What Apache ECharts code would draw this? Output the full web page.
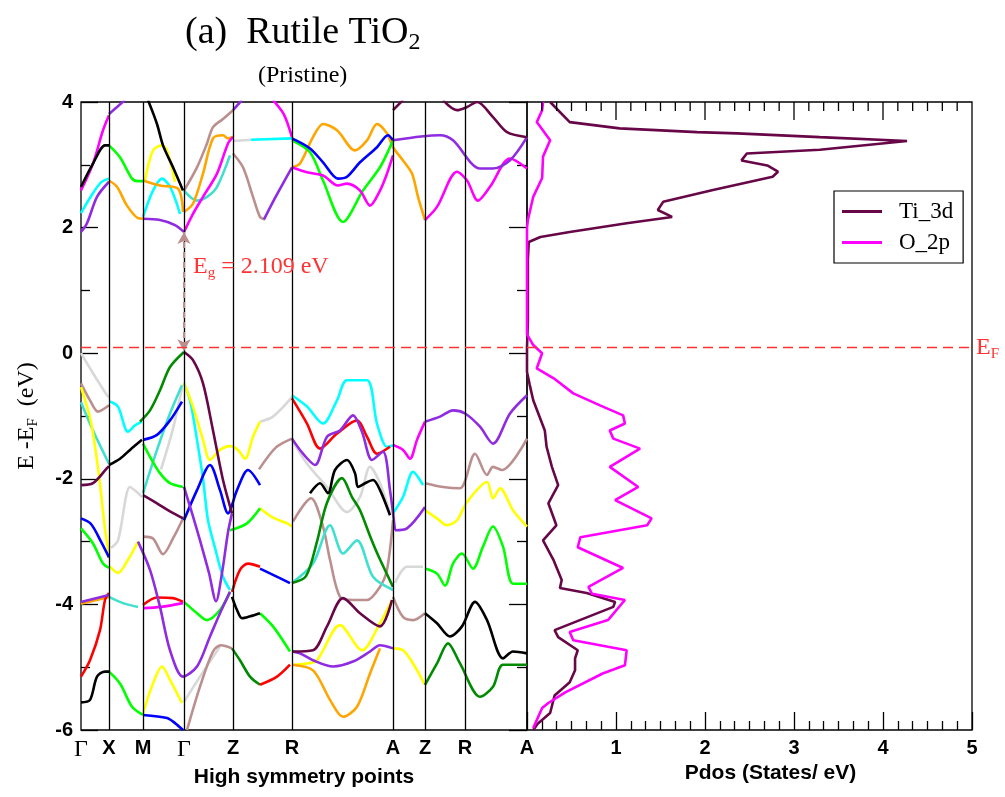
<!DOCTYPE html>
<html>
<head>
<meta charset="utf-8">
<script src="https://cdn.jsdelivr.net/npm/echarts@6.0.0/dist/echarts.min.js"></script>
<style>
html, body { margin: 0; padding: 0; background: #fff; }
#chart { width: 1005px; height: 797px; }
</style>
</head>
<body>
<div id="chart"></div>
<script>
// k-path (arbitrary units) and the high symmetry labels
const kTicks = [0, 28, 62, 103, 152, 211, 312, 344, 384, 446];
const kNames = ['Γ', 'X', 'M', 'Γ', 'Z', 'R', 'A', 'Z', 'R', 'A'];
const fermiLevel = 0.09;
const gapEnds = [[103, 1.93], [103, 0.03]];
const gapText = 'E{s|g} = 2.109 eV';

// bands, one array per plot colour, each made of [k, E] segments
const bandPurple = [
  [[0, 1.93], [6, 2.07], [16, 2.49], [28, 2.73]],
  [[62, 2.14], [79, 2.12], [94, 2.04], [103, 1.93]],
  [[28, 3.81], [44, 4.03]],
  [[152, 3.87], [161, 4.03]],
  [[183, 2.13], [195, 2.5], [211, 2.96]],
  [[312, 3.39], [340, 3.45], [359, 3.47], [372, 3.39], [399, 2.94], [412, 2.94], [429, 3.07], [446, 3.44]],
  [[211, -1.36], [222, -1.6], [234, -1.78], [246, -1.33], [259, -1.23], [272, -0.99], [281, -1.25], [291, -1.7], [302, -1.57], [309, -2.18], [314, -2.82]],
  [[314, -2.82], [326, -2.79], [344, -2.45]],
  [[344, -1.09], [359, -1.01], [372, -0.91], [384, -0.96], [399, -1.17], [412, -1.44], [429, -0.96], [446, -0.67]],
  [[103, -2.13], [112, -2.6], [119, -2.98], [128, -3.5], [135, -3.95], [141, -3.5], [147, -2.85], [151, -2.55]],
  [[57, -3.0], [69, -3.45], [79, -4.04], [89, -4.73], [102, -5.15], [116, -4.99], [129, -4.51], [139, -4.14], [149, -3.8]],
  [[0, -3.96], [28, -3.85]],
  [[211, -4.75], [219, -4.78], [232, -4.89], [252, -4.99], [272, -4.91], [289, -4.75], [299, -4.65], [312, -4.7]]
];
const bandMagenta = [
  [[0, 2.59], [12, 3.02], [22, 3.55], [28, 3.79]],
  [[103, 1.93], [112, 2.22], [122, 2.49], [136, 2.86], [147, 3.34], [152, 3.44]],
  [[192, 4.03], [203, 3.8], [211, 3.44]],
  [[211, 2.96], [226, 2.88], [242, 2.83], [257, 2.67], [266, 2.7], [279, 2.59], [289, 2.35], [299, 2.59], [306, 2.86], [312, 3.15]],
  [[344, 2.12], [356, 2.33], [376, 2.89], [386, 2.75], [397, 2.43], [409, 2.65], [429, 3.1], [446, 2.94]],
  [[312, -1.46], [322, -1.54], [329, -1.68], [336, -1.38], [344, -1.09]],
  [[62, -4.06], [80, -4.04], [102, -3.98]]
];
const bandCyan = [
  [[0, 2.23], [10, 2.5], [20, 2.72], [28, 2.78]],
  [[62, 2.17], [72, 2.59], [81, 2.78], [89, 2.65], [99, 2.22]],
  [[170, 3.4], [211, 3.42]],
  [[29, -0.77], [37, -0.85], [47, -1.25], [54, -1.15], [61, -1.09]],
  [[103, -0.48], [109, -0.75], [116, -1.38], [122, -2.0], [127, -2.66], [134, -3.1], [142, -3.56], [149, -3.77]],
  [[211, -0.67], [226, -0.85], [242, -1.12], [256, -0.75], [266, -0.43], [286, -0.43], [296, -1.12], [306, -1.49], [312, -1.47]],
  [[312, -2.55], [322, -2.29], [332, -1.89], [342, -2.1]]
];
const bandTurquoise = [
  [[103, 2.59], [116, 2.43], [126, 2.49], [136, 2.65], [149, 3.15]],
  [[0, -0.78], [12, -1.23], [28, -1.76]],
  [[62, -2.23], [76, -1.54], [89, -0.96], [101, -0.51]],
  [[28, -3.88], [42, -3.98], [57, -4.04]],
  [[211, -3.66], [232, -3.35], [249, -2.74], [262, -3.19], [276, -2.98], [292, -3.56], [312, -3.77]]
];
const bandBlack = [
  [[0, 2.65], [12, 3.02], [24, 3.31], [28, 3.31]],
  [[67, 4.03], [76, 3.65], [82, 3.31], [92, 2.96], [102, 2.59]],
  [[28, -1.78], [39, -1.68], [49, -1.54], [61, -1.38]],
  [[0, -5.56], [9, -5.52], [16, -5.15], [24, -5.07], [28, -5.07]],
  [[151, -3.88], [156, -4.09], [161, -4.22], [169, -4.19], [179, -4.14]],
  [[229, -2.23], [239, -2.07], [247, -2.23], [254, -1.86], [266, -1.7], [274, -1.91], [277, -2.13], [284, -2.07], [292, -2.02], [299, -2.18], [309, -2.58]],
  [[344, -4.14], [356, -4.3], [369, -4.51], [381, -4.35], [394, -3.96], [406, -4.25], [422, -4.86], [432, -4.75], [446, -4.78]]
];
const bandGreen = [
  [[28, 3.31], [39, 3.12], [51, 2.78], [57, 2.74], [62, 2.74]],
  [[211, 3.39], [229, 3.2], [242, 2.75], [262, 2.09], [282, 2.59], [299, 2.96], [309, 3.28], [312, 3.39]],
  [[0, -2.79], [12, -3.03], [22, -3.35], [28, -3.42]],
  [[62, -1.44], [69, -1.65], [79, -1.91], [89, -2.07], [102, -2.13]],
  [[149, -2.82], [166, -2.71], [179, -2.47]],
  [[28, -5.07], [39, -5.26], [51, -5.63], [62, -5.76]],
  [[103, -3.96], [116, -4.14], [126, -4.25], [139, -4.09], [149, -3.8]],
  [[179, -4.14], [192, -4.35], [209, -4.75]],
  [[344, -3.43], [356, -3.51], [364, -3.7], [372, -3.35], [381, -3.19], [392, -3.43], [402, -3.08], [412, -2.76], [422, -3.08], [432, -3.67], [446, -3.67]]
];
const bandDarkGreen = [
  [[59, -1.09], [69, -0.91], [79, -0.59], [89, -0.22], [103, 0.02]],
  [[211, -3.66], [225, -3.55], [236, -3.0], [246, -2.38], [261, -1.99], [271, -2.29], [279, -2.5], [290, -2.95], [298, -3.25], [312, -3.72]],
  [[151, -4.7], [159, -4.89], [169, -5.15], [179, -5.28]],
  [[344, -5.28], [356, -4.94], [367, -4.62], [379, -4.94], [399, -5.47], [412, -5.31], [422, -4.96], [446, -4.96]]
];
const bandYellow = [
  [[64, 2.75], [72, 3.23], [81, 3.31], [86, 3.23], [94, 2.73]],
  [[0, -0.54], [10, -1.1], [18, -1.95], [24, -2.8], [28, -3.2]],
  [[29, -3.4], [37, -3.5], [47, -3.29], [57, -3.0]],
  [[62, -5.73], [72, -5.26], [81, -4.99], [89, -5.2], [101, -5.57]],
  [[103, -0.48], [112, -0.85], [122, -1.38], [129, -1.7], [139, -1.54], [149, -1.48], [157, -1.54], [164, -1.68], [172, -1.33], [179, -1.09]],
  [[179, -2.47], [192, -2.62], [205, -2.7], [211, -2.76]],
  [[211, -4.96], [226, -4.94], [236, -4.89], [259, -4.33], [281, -4.73], [299, -4.3], [311, -3.93]],
  [[312, -4.7], [322, -4.73], [332, -4.94], [344, -5.28]],
  [[344, -2.5], [356, -2.63], [366, -2.74], [376, -2.66], [386, -2.37], [406, -2.05], [412, -2.31], [419, -2.15], [432, -2.5], [446, -2.76]]
];
const bandOrange = [
  [[28, 2.75], [36, 2.65], [46, 2.35], [57, 2.15], [62, 2.14]],
  [[62, 2.75], [79, 2.67], [97, 2.62], [102, 2.25]],
  [[103, 2.25], [112, 2.38], [122, 2.86], [132, 3.42], [142, 3.47], [147, 3.42], [152, 3.45]],
  [[211, 2.96], [219, 3.02], [232, 3.44], [242, 3.65], [256, 3.55], [274, 3.23], [286, 3.39], [296, 3.65], [306, 3.5], [312, 3.28], [322, 3.07], [331, 2.86], [337, 2.49], [344, 2.12]],
  [[211, -4.96], [232, -5.05], [249, -5.52], [262, -5.79], [276, -5.63], [289, -5.1], [299, -4.7]],
  [[0, -3.99], [28, -3.88]]
];
const bandBrown = [
  [[103, 2.59], [116, 2.96], [126, 3.34], [132, 3.6], [142, 3.73], [152, 3.87]],
  [[152, 3.18], [162, 2.96], [172, 2.49], [179, 2.17], [184, 2.13]],
  [[0, -0.48], [9, -0.75], [17, -0.93], [28, -0.83]],
  [[62, -2.92], [72, -2.95], [82, -3.2], [92, -2.95], [103, -2.6]],
  [[106, -6.0], [119, -5.31], [132, -4.75], [140, -4.65], [151, -4.7]],
  [[178, -1.85], [195, -1.5], [211, -1.36]],
  [[212, -2.68], [230, -2.31], [242, -2.76], [249, -3.29], [259, -3.88], [272, -3.93], [286, -3.93], [299, -3.72], [306, -3.45], [312, -2.66]],
  [[312, -3.88], [322, -4.2], [332, -4.25], [344, -4.14]],
  [[344, -2.07], [362, -2.13], [379, -2.15], [394, -1.6], [406, -1.94], [412, -1.81], [421, -1.86], [446, -1.36]]
];
const bandGray = [
  [[152, 3.38], [170, 3.4]],
  [[0, 0.0], [12, -0.32], [26, -0.67], [28, -0.7]],
  [[30, -3.1], [37, -2.98], [49, -2.13], [55, -2.2], [61, -2.29]],
  [[80, -1.85], [92, -1.2], [101, -0.55]],
  [[179, -1.09], [192, -1.01], [211, -0.7]],
  [[211, -1.38], [226, -1.76], [246, -2.13], [266, -2.53], [279, -2.29], [289, -1.81], [299, -2.07], [309, -2.55]],
  [[314, -3.66], [326, -3.4], [342, -3.4]],
  [[103, -5.55], [119, -5.15], [139, -4.67]]
];
const bandBlue = [
  [[211, 3.42], [229, 3.26], [242, 3.04], [257, 2.78], [266, 2.81], [279, 3.04], [296, 3.28], [307, 3.47], [312, 3.39]],
  [[62, -1.38], [76, -1.3], [89, -1.07], [101, -0.77]],
  [[103, -2.66], [116, -2.18], [129, -1.78], [139, -2.18], [147, -2.55], [156, -2.18], [167, -1.86], [179, -2.1]],
  [[0, -2.63], [10, -2.72], [20, -3.0], [28, -3.25]],
  [[62, -5.76], [86, -5.81], [94, -5.89], [102, -6.0]],
  [[179, -3.43], [192, -3.53], [209, -3.66]]
];
const bandRed = [
  [[0, -5.15], [9, -4.89], [19, -4.41], [24, -3.93], [28, -3.82]],
  [[62, -4.01], [76, -3.89], [92, -3.9], [102, -3.96]],
  [[151, -3.8], [159, -3.45], [167, -3.35], [179, -3.4]],
  [[179, -5.28], [196, -5.15], [209, -4.96]],
  [[211, -0.72], [226, -1.12], [239, -1.52], [256, -1.28], [276, -1.07], [286, -1.33], [296, -1.6], [309, -1.49]]
];
const bandMaroon = [
  [[312, 3.87], [322, 4.03]],
  [[362, 4.03], [376, 3.87], [386, 3.92], [396, 4.0], [412, 3.76], [426, 3.52], [446, 3.44]],
  [[0, -2.1], [12, -2.07], [26, -1.83], [28, -1.8]],
  [[62, -2.26], [76, -2.39], [89, -2.52], [102, -2.63]],
  [[103, 0.02], [112, -0.11], [122, -0.48], [132, -1.23], [142, -2.02], [151, -2.55]],
  [[211, -4.75], [232, -4.73], [246, -4.35], [262, -3.9], [279, -4.14], [299, -4.35], [311, -3.93]]
];

// projected DOS, [states/eV, E]
const tiDos = [[0.26, 4.0], [0.48, 3.68], [1.04, 3.58], [1.91, 3.52], [2.36, 3.5], [3.29, 3.44], [4.27, 3.38],
  [3.29, 3.24], [2.47, 3.18], [2.41, 3.07], [2.7, 2.99], [2.82, 2.89], [2.76, 2.81], [2.09, 2.6], [1.53, 2.41],
  [1.47, 2.28], [1.63, 2.17], [1.12, 2.07], [0.48, 1.93], [0.15, 1.85], [0.02, 1.77], [0.01, 1.5], [0.01, 0.5],
  [0.0, 0.1], [0.0, -0.3], [0.03, -0.5], [0.07, -0.75], [0.2, -1.23], [0.22, -1.49], [0.28, -1.81], [0.35, -2.1],
  [0.24, -2.39], [0.33, -2.74], [0.18, -2.98], [0.3, -3.3], [0.39, -3.61], [0.37, -3.74], [0.67, -3.82],
  [0.99, -3.96], [0.97, -4.04], [0.31, -4.41], [0.35, -4.52], [0.57, -4.73], [0.54, -4.86], [0.54, -5.05],
  [0.48, -5.24], [0.31, -5.45], [0.26, -5.73], [0.12, -5.9], [0.07, -6.0]];
const oDos = [[0.18, 4.0], [0.17, 3.87], [0.11, 3.68], [0.26, 3.39], [0.18, 3.13], [0.17, 2.79], [0.07, 2.49],
  [0.01, 2.12], [0.0, 2.0], [0.0, 0.3], [0.07, 0.13], [0.17, 0.0], [0.11, -0.24], [0.3, -0.4], [0.52, -0.64],
  [0.82, -0.83], [1.08, -0.99], [1.1, -1.12], [0.93, -1.23], [0.97, -1.36], [1.27, -1.52], [0.93, -1.81],
  [1.25, -2.13], [0.99, -2.34], [1.4, -2.63], [1.35, -2.74], [0.6, -2.93], [0.57, -3.09], [1.08, -3.42],
  [0.69, -3.72], [0.73, -3.83], [1.1, -3.93], [0.91, -4.25], [0.48, -4.44], [0.52, -4.57], [1.12, -4.73],
  [1.1, -4.97], [0.85, -5.1], [0.43, -5.4], [0.24, -5.57], [0.17, -5.65], [0.07, -5.97]];

const bandGroups = [
  [bandGray, '#d8d8d8'], [bandBrown, '#bc8f8f'], [bandTurquoise, '#40e0d0'], [bandCyan, '#00ffff'],
  [bandYellow, '#ffff00'], [bandOrange, '#ffa500'], [bandGreen, '#00ff00'], [bandDarkGreen, '#008b00'],
  [bandBlue, '#0000ff'], [bandRed, '#ff0000'], [bandMagenta, '#ff00ff'], [bandPurple, '#8f2be0'],
  [bandBlack, '#000000'], [bandMaroon, '#670748']
];

const serif = 'Liberation Serif';
const sans = 'Liberation Sans';
const kMax = kTicks[kTicks.length - 1];
const eMin = -6, eMax = 4;

let myChart = echarts.init(document.getElementById('chart'));

let series = [];
bandGroups.forEach(([segs, color]) => {
  segs.forEach(seg => {
    series.push({
      type: 'line', xAxisIndex: 0, yAxisIndex: 0,
      data: seg, smooth: 0.3, symbol: 'none', silent: true, z: 3,
      lineStyle: { color: color, width: 2.6 }, itemStyle: { color: color }
    });
  });
});

// vertical lines at the high symmetry points
series.unshift({
  type: 'line', xAxisIndex: 0, yAxisIndex: 0, z: 1,
  data: kTicks.map(k => [k, eMin]), symbol: 'none', lineStyle: { opacity: 0 },
  markLine: {
    silent: true, symbol: 'none', animation: false,
    lineStyle: { color: '#000', width: 1.3, type: 'solid' },
    label: { show: false },
    data: kTicks.slice(1, -1).map(k => ({ xAxis: k }))
  }
});

// Fermi level (both panels)
series.push({
  type: 'line', xAxisIndex: 0, yAxisIndex: 0, z: 5, silent: true,
  data: [[0, fermiLevel], [kMax, fermiLevel]], symbol: 'none',
  lineStyle: { color: '#ff3333', width: 1.5, type: [10, 6] }
});
series.push({
  type: 'line', xAxisIndex: 1, yAxisIndex: 2, z: 5, silent: true,
  data: [[0, fermiLevel], [5, fermiLevel]], symbol: 'none',
  lineStyle: { color: '#ff3333', width: 1.5, type: [10, 6] },
  endLabel: {
    show: true, distance: 4, formatter: 'E{s|F}',
    color: '#ff3333', fontFamily: serif, fontSize: 24,
    rich: { s: { color: '#ff3333', fontFamily: serif, fontSize: 15, padding: [14, 0, 0, 0] } }
  }
});

// band gap arrow and text
series.push({
  type: 'line', xAxisIndex: 0, yAxisIndex: 0, z: 6, silent: true,
  data: gapEnds, symbol: 'none', lineStyle: { opacity: 0 },
  markLine: {
    silent: true, animation: false, symbol: ['arrow', 'arrow'], symbolSize: [10, 12],
    lineStyle: { color: '#bc8f8f', width: 2, type: [6, 4] },
    label: { show: false },
    data: [[{ coord: gapEnds[0] }, { coord: gapEnds[1] }]]
  },
  markPoint: {
    silent: true, animation: false, symbolSize: 0,
    data: [{ coord: [112, 1.38] }],
    label: {
      show: true, position: 'right', distance: 0, formatter: gapText,
      color: '#ff3333', fontFamily: serif, fontSize: 24,
      rich: { s: { color: '#ff3333', fontFamily: serif, fontSize: 15, padding: [14, 0, 0, 0] } }
    }
  }
});

// PDOS
series.push({
  name: 'Ti_3d', type: 'line', xAxisIndex: 1, yAxisIndex: 2, z: 4,
  data: tiDos, symbol: 'none',
  lineStyle: { color: '#670748', width: 2.6 }, itemStyle: { color: '#670748' }
});
series.push({
  name: 'O_2p', type: 'line', xAxisIndex: 1, yAxisIndex: 2, z: 4,
  data: oDos, symbol: 'none',
  lineStyle: { color: '#ff00ff', width: 2.6 }, itemStyle: { color: '#ff00ff' }
});

let option = {
  animation: false,
  backgroundColor: '#fff',
  title: [
    {
      text: '(a)  Rutile TiO{s|2}', left: 180, top: 6,
      textStyle: {
        fontFamily: serif, fontSize: 38, fontWeight: 'normal', color: '#000',
        rich: { s: { fontFamily: serif, fontSize: 24, color: '#000', padding: [20, 0, 0, 0] } }
      }
    },
    {
      text: '(Pristine)', left: 253, top: 59,
      textStyle: { fontFamily: serif, fontSize: 24, fontWeight: 'normal', color: '#000' }
    }
  ],
  legend: {
    data: ['Ti_3d', 'O_2p'],
    orient: 'vertical', left: 834, top: 191,
    borderColor: '#000', borderWidth: 1.2, borderRadius: 0,
    padding: [9, 10, 9, 8], itemGap: 8,
    icon: 'rect', itemWidth: 40, itemHeight: 3,
    textStyle: { fontFamily: serif, fontSize: 23, color: '#000', padding: [0, 0, 0, 12] }
  },
  grid: [
    { left: 81, top: 102, width: 446, height: 628, show: true, borderColor: '#000', borderWidth: 1.3 },
    { left: 527, top: 102, width: 445, height: 628, show: true, borderColor: '#000', borderWidth: 1.3 }
  ],
  xAxis: [
    {
      gridIndex: 0, type: 'value', min: 0, max: kMax,
      axisLine: { show: false, onZero: false }, splitLine: { show: false }, axisTick: { show: false },
      axisLabel: {
        customValues: kTicks, showMinLabel: true, showMaxLabel: true, margin: 8,
        formatter: (v) => {
          const name = kNames[kTicks.indexOf(v)] || '';
          return name === 'Γ' ? '{g|Γ}' : '{b|' + name + '}';
        },
        rich: {
          g: { fontFamily: serif, fontSize: 24, color: '#000', padding: [0, 0, 8, 0] },
          b: { fontFamily: sans, fontWeight: 'bold', fontSize: 20, color: '#000' }
        }
      },
      name: 'High symmetry points', nameLocation: 'middle', nameGap: 29,
      nameTextStyle: { fontFamily: sans, fontWeight: 'bold', fontSize: 21, color: '#000' }
    },
    {
      gridIndex: 1, type: 'value', position: 'bottom', min: 0, max: 5, interval: 1,
      axisLine: { show: false, onZero: false }, splitLine: { show: false },
      axisTick: { show: true, inside: true, length: 18, lineStyle: { color: '#000', width: 1.3 } },
      minorTick: { show: true, splitNumber: 6, length: 9, lineStyle: { color: '#000', width: 1.3 } },
      axisLabel: {
        margin: 8, fontFamily: sans, fontWeight: 'bold', fontSize: 20, color: '#000',
        formatter: v => (v === 0 ? '' : String(v))
      },
      name: 'Pdos (States/ eV)', nameLocation: 'middle', nameGap: 29,
      nameTextStyle: { fontFamily: sans, fontWeight: 'bold', fontSize: 21, color: '#000', padding: [0, 0, 0, 42] }
    }
  ],
  yAxis: [
    {
      gridIndex: 0, type: 'value', min: eMin, max: eMax, interval: 2,
      axisLine: { show: false }, splitLine: { show: false },
      axisTick: { show: true, inside: true, length: 17, lineStyle: { color: '#000', width: 1.3 } },
      minorTick: { show: true, splitNumber: 2, length: 9, lineStyle: { color: '#000', width: 1.3 } },
      axisLabel: { margin: 8, fontFamily: sans, fontWeight: 'bold', fontSize: 20, color: '#000' },
      name: 'E -E{s|F}  (eV)', nameLocation: 'middle', nameRotate: 90, nameGap: 40,
      nameTextStyle: {
        fontFamily: serif, fontSize: 24, color: '#000',
        rich: { s: { fontFamily: serif, fontSize: 15, color: '#000', padding: [14, 0, 0, 0] } }
      }
    },
    {
      gridIndex: 0, type: 'value', position: 'right', min: eMin, max: eMax, interval: 2,
      axisLine: { show: false, onZero: false }, splitLine: { show: false }, axisLabel: { show: false },
      axisTick: { show: true, inside: true, length: 18, lineStyle: { color: '#000', width: 1.3 } },
      minorTick: { show: true, splitNumber: 2, length: 10, lineStyle: { color: '#000', width: 1.3 } }
    },
    {
      gridIndex: 1, type: 'value', min: eMin, max: eMax, interval: 2,
      axisLine: { show: false, onZero: false }, splitLine: { show: false },
      axisLabel: { show: false }, axisTick: { show: false }
    }
  ],
  series: series
};

myChart.setOption(option);

// tick marks hanging from the top edge of the dos panel, placed with the panel's own scale
const topTickEls = [];
for (let i = 1; i < 30; i++) {
  const v = i / 6;
  const p = myChart.convertToPixel({ xAxisIndex: 1, yAxisIndex: 2 }, [v, eMax]);
  if (!p) continue;
  const len = i % 6 === 0 ? 18 : 9;
  topTickEls.push({
    type: 'line', silent: true, z: 100,
    shape: { x1: p[0], y1: p[1], x2: p[0], y2: p[1] + len },
    style: { stroke: '#000', lineWidth: 1.3 }
  });
}
myChart.setOption({ graphic: { elements: topTickEls } });

window.onresize = () => myChart.resize();
</script>
</body>
</html>
